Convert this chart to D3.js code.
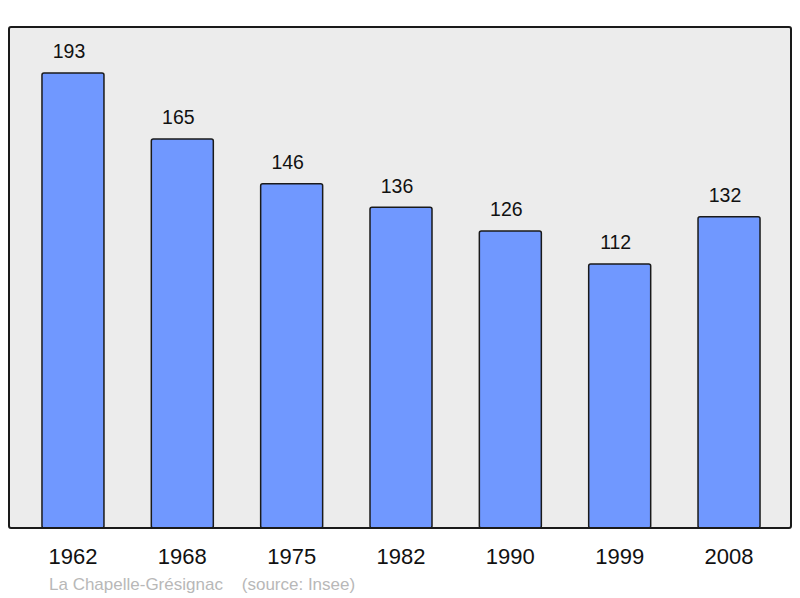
<!DOCTYPE html>
<html>
<head>
<meta charset="utf-8">
<script src="https://cdn.jsdelivr.net/npm/d3@7"></script>
<style>
  body { margin: 0; background: #fff; }
  text { font-family: "Liberation Sans", Arial, sans-serif; }
</style>
</head>
<body>
<main></main>
<script>
var w = 800;
var h = 598;

// data
var years = ["1962", "1968", "1975", "1982", "1990", "1999", "2008"];
var population = [193, 165, 146, 136, 126, 112, 132];
var commune = "La Chapelle-Grésignac";
var source = "(source: Insee)";

// frame of the plot
var frameLeft = 9, frameRight = 791, frameTop = 27, frameBottom = 528;

var svg = d3.select("main").append("svg").attr("width", w).attr("height", h);

// SCALES
var xScale = d3.scaleBand()
  .domain(years)
  .range([18.3, 783.7])
  .paddingInner(0.433)
  .paddingOuter(0.2165);
var yScale = d3.scaleLinear()
  .domain([0, 212.5])
  .range([frameBottom, frameTop]);

// background
svg.append("rect")
  .attr("x", frameLeft)
  .attr("y", frameTop)
  .attr("width", frameRight - frameLeft)
  .attr("height", frameBottom - frameTop)
  .attr("rx", 2)
  .attr("fill", "#ececec");

// bars
svg.selectAll("rect.bar")
  .data(population)
  .enter()
  .append("rect")
  .attr("class", "bar")
  .attr("x", function (d, i) { return xScale(years[i]); })
  .attr("y", function (d) { return yScale(d); })
  .attr("width", xScale.bandwidth())
  .attr("height", function (d) { return yScale(0) - yScale(d); })
  .attr("rx", 2)
  .attr("fill", "#7098ff")
  .attr("stroke", "#1a1a1a")
  .attr("stroke-width", 1.5);

// value labels
svg.selectAll("text.value")
  .data(population)
  .enter()
  .append("text")
  .attr("class", "value")
  .attr("x", function (d, i) { return xScale(years[i]) + xScale.bandwidth() / 2 - 4; })
  .attr("y", function (d) { return yScale(d) - 14.5; })
  .attr("text-anchor", "middle")
  .attr("font-size", "19.5px")
  .attr("fill", "#111")
  .text(function (d) { return d; });

// frame on top
svg.append("rect")
  .attr("x", frameLeft)
  .attr("y", frameTop)
  .attr("width", frameRight - frameLeft)
  .attr("height", frameBottom - frameTop)
  .attr("rx", 2)
  .attr("fill", "none")
  .attr("stroke", "#1a1a1a")
  .attr("stroke-width", 2);

// year labels
svg.selectAll("text.year")
  .data(years)
  .enter()
  .append("text")
  .attr("class", "year")
  .attr("x", function (d) { return xScale(d) + xScale.bandwidth() / 2; })
  .attr("y", 564)
  .attr("text-anchor", "middle")
  .attr("font-size", "22px")
  .attr("fill", "#111")
  .text(function (d) { return d; });

// source line
svg.append("text")
  .attr("x", 49)
  .attr("y", 590)
  .attr("font-size", "17px")
  .attr("fill", "#b8b8b8")
  .style("white-space", "pre")
  .text(commune + "    " + source);
</script>
</body>
</html>
